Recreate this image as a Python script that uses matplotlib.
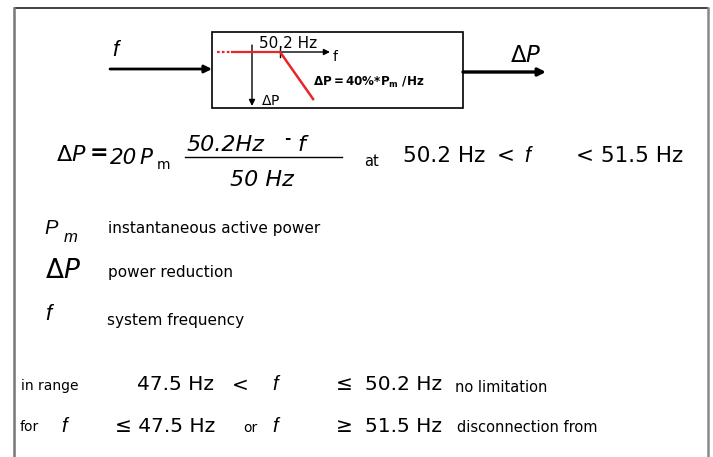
import matplotlib
matplotlib.use("Agg")
import matplotlib.pyplot as plt
from matplotlib.patches import Rectangle

plt.rcParams["mathtext.fontset"] = "dejavusans"

# ---- data: droop characteristic (schematic) ----
dotted_f = [47.72, 48.31]
dotted_dp = [0, 0]
flat_f = [48.31, 50.2]
flat_dp = [0, 0]
droop_f = [50.2, 51.5]
droop_dp = [0, 52]

# ---- texts ----
legend_symbols = ["P", r"$\Delta P$", "f"]
legend_texts = ["instantaneous active power", "power reduction", "system frequency"]
row1_texts = ["in range", "47.5 Hz", "<", "f", "\u2264", "50.2 Hz", "no limitation"]
row2_texts = ["for", "f", "\u2264 47.5 Hz", "or", "f", "\u2265", "51.5 Hz", "disconnection from"]

W, H = 713, 457
fig = plt.figure(figsize=(W / 100, H / 100), dpi=100)
ax = fig.add_axes([0, 0, 1, 1])
ax.set_xlim(0, W)
ax.set_ylim(H, 0)
ax.axis("off")

SANS = ["Liberation Sans", "DejaVu Sans"]
DV = ["DejaVu Sans"]

def T(x, y, s, size, fam=SANS, style="normal", ha="left", va="center", **kw):
    ax.text(x, y, s, fontsize=size, family=fam, style=style, ha=ha, va=va, color="black", **kw)

# outer frame
ax.plot([14, 708], [8, 8], color="#333333", lw=1.3, solid_capstyle="butt")
ax.plot([14, 14], [8, H], color="#777777", lw=1.8)
ax.plot([708, 708], [8, H], color="#888888", lw=1.8)

# inner block
ax.add_patch(Rectangle((212, 32), 251, 76, fill=False, lw=1.2, ec="black"))

# input / output arrows
ax.annotate("", xy=(212, 69), xytext=(110, 69),
            arrowprops=dict(arrowstyle="-|>", lw=2.0, color="black", mutation_scale=11, shrinkA=0, shrinkB=0))
ax.annotate("", xy=(546, 72), xytext=(463, 72),
            arrowprops=dict(arrowstyle="-|>", lw=2.4, color="black", mutation_scale=11, shrinkA=0, shrinkB=0))
T(112, 50, "f", 16, SANS, "italic")
T(510, 56, r"$\Delta P$", 16.5, DV)

# inner axes arrows
ax.annotate("", xy=(252, 106), xytext=(252, 45),
            arrowprops=dict(arrowstyle="-|>", lw=1.0, color="black", mutation_scale=9, shrinkA=0, shrinkB=0))
ax.annotate("", xy=(330, 52), xytext=(252, 52),
            arrowprops=dict(arrowstyle="-|>", lw=1.0, color="black", mutation_scale=9, shrinkA=0, shrinkB=0))
ax.plot([280, 280], [48, 57], color="black", lw=1.0)
T(259, 43, "50.2 Hz", 11, DV)
T(333, 57, "f", 10, DV)
T(261, 101, r"$\mathregular{\Delta}$P", 10, DV)
T(313, 82, r"$\mathregular{\Delta P{=}40\%{*}P_{m}\ /Hz}$", 8.6, DV, weight="bold")

# characteristic curve in its own axes
cax = fig.add_axes([212 / W, 1 - 108 / H, 251 / W, 76 / H])
cax.set_xlim(47.52, 57.40)
cax.set_ylim(61.9, -22.1)
cax.axis("off")
red = "#e8262a"
cax.plot(dotted_f, dotted_dp, color=red, lw=1.6, ls=(0, (1.2, 1.0)))
cax.plot(flat_f, flat_dp, color=red, lw=1.6)
cax.plot(droop_f, droop_dp, color=red, lw=1.8)

# main formula
T(56, 155, r"$\Delta P$", 16, DV)
T(90, 153, "=", 16, DV, weight="bold")
T(110, 158, "20", 15.5, DV, "italic")
T(139, 158, "P", 15.5, DV, "italic")
T(157, 165, "m", 10, DV)
T(187, 145, "50.2Hz", 16, DV, "italic")
T(284, 139, "-", 11, DV, weight="bold")
T(297, 145, "f", 16, DV, "italic")
ax.plot([185, 342], [157, 157], color="black", lw=1.0)
T(230, 180, "50 Hz", 16, DV, "italic")
T(364, 161, "at", 10.5, DV)
T(403, 156, "50.2 Hz", 15.5, DV)
T(497, 156, "<", 15.5, DV)
T(524, 156, "f", 15.5, SANS, "italic")
T(576, 156, "< 51.5 Hz", 15.5, DV)

# legend rows
T(44, 228, legend_symbols[0], 14.5, SANS, "italic")
T(64, 237, "m", 12, SANS, "italic")
T(108, 229, legend_texts[0], 11, DV)
T(45, 271, legend_symbols[1], 19, DV)
T(108, 272, legend_texts[1], 11, DV)
T(45, 315, legend_symbols[2], 16, SANS, "italic")
T(107, 320, legend_texts[2], 11, DV)

# bottom rows
y1, y2 = 385, 426
T(21, y1 + 1, row1_texts[0], 10, DV)
T(137, y1, row1_texts[1], 14.5, DV)
T(232, y1, row1_texts[2], 14.5, DV)
T(272, y1, row1_texts[3], 14.5, SANS, "italic")
T(336, y1, row1_texts[4], 14.5, DV)
T(365, y1, row1_texts[5], 14.5, DV)
T(455, y1 + 3, row1_texts[6], 10.5, DV)

T(20, y2 + 1, row2_texts[0], 10, DV)
T(61, y2, row2_texts[1], 14.5, SANS, "italic")
T(115, y2, row2_texts[2], 14.5, DV)
T(243, y2 + 2, row2_texts[3], 10, DV)
T(272, y2, row2_texts[4], 14.5, SANS, "italic")
T(336, y2, row2_texts[5], 14.5, DV)
T(365, y2, row2_texts[6], 14.5, DV)
T(457, y2 + 1, row2_texts[7], 10.5, DV)

fig.savefig("out.png", dpi=100, facecolor="white")
